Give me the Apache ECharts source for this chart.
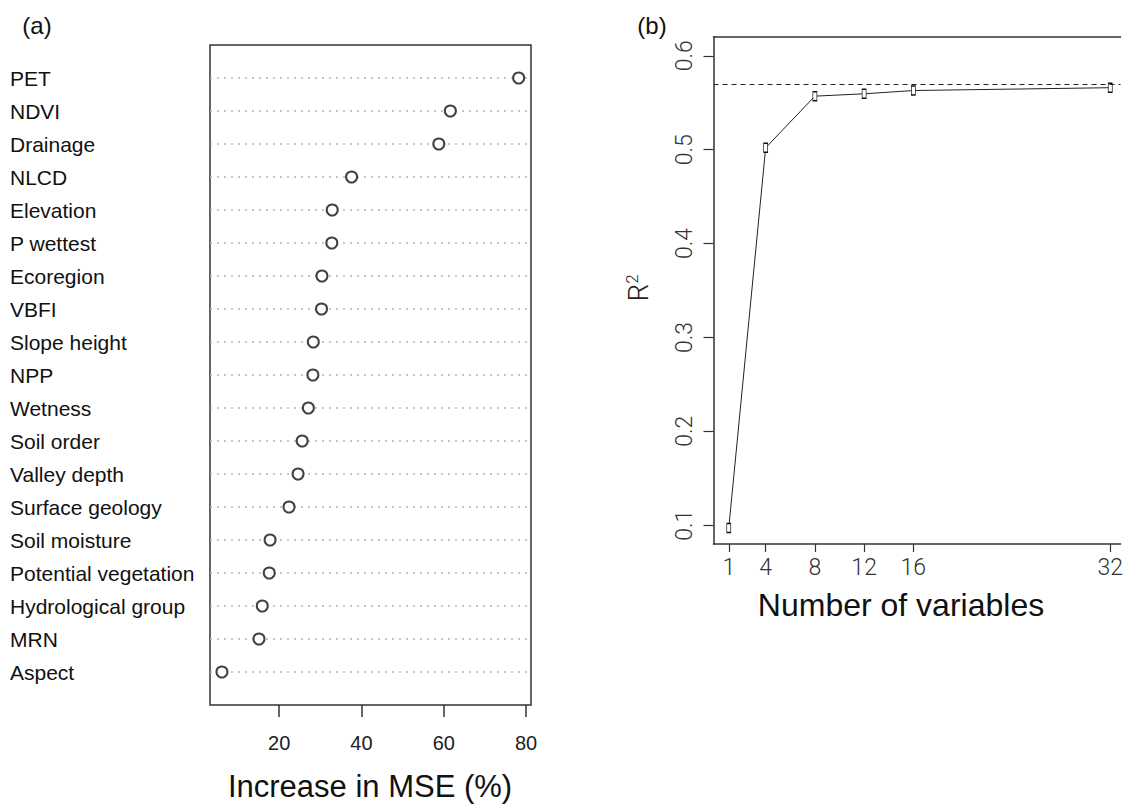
<!DOCTYPE html>
<html>
<head>
<meta charset="utf-8">
<script src="https://cdn.jsdelivr.net/npm/echarts@6/dist/echarts.min.js"></script>
<style>
  html, body { margin: 0; padding: 0; background: #fff; }
  #chart { width: 1126px; height: 806px; }
</style>
</head>
<body>
<div id="chart"></div>
<script>
// (a) variable importance, top to bottom
const varNames = ['PET', 'NDVI', 'Drainage', 'NLCD', 'Elevation', 'P wettest', 'Ecoregion', 'VBFI',
  'Slope height', 'NPP', 'Wetness', 'Soil order', 'Valley depth', 'Surface geology', 'Soil moisture',
  'Potential vegetation', 'Hydrological group', 'MRN', 'Aspect'];
const mseIncrease = [78.2, 61.6, 58.8, 37.6, 32.9, 32.8, 30.4, 30.3, 28.3, 28.2, 27.1, 25.6, 24.6,
  22.4, 17.8, 17.6, 15.9, 15.1, 6.1];
const mseTicks = [20, 40, 60, 80];

// (b) R2 vs number of variables
const nVars = [1, 4, 8, 12, 16, 32];
const rsq = [0.097, 0.502, 0.557, 0.5595, 0.563, 0.566];
const rsqMax = [0.5667];
const nVarTicks = [1, 4, 8, 12, 16, 32];
const rsqTicks = [0.1, 0.2, 0.3, 0.4, 0.5, 0.6];

const n = varNames.length;
const rowPos = varNames.map((_, i) => n - i);

const chart = echarts.init(document.getElementById('chart'), null, { renderer: 'svg' });

const sans = 'Liberation Sans, Arial, sans-serif';
const thin = 'Roboto, Liberation Sans, sans-serif';
const frame = { color: '#333', width: 1.5 };

const option = {
  animation: false,
  backgroundColor: '#fff',
  grid: [
    { left: 210, top: 45, width: 321, height: 660, show: true, borderColor: '#333', borderWidth: 1.5, backgroundColor: 'transparent' },
    // panel (b) runs off the right edge: no right border
    { left: 713.5, top: 37, width: 412.5, height: 507 }
  ],
  xAxis: [
    {
      gridIndex: 0, type: 'value', min: 3.2, max: 81.2,
      axisLine: { show: false },
      axisTick: { show: true, length: 12, customValues: mseTicks, lineStyle: { color: '#333', width: 1.5 } },
      axisLabel: { customValues: mseTicks, margin: 28, fontSize: 20, fontFamily: sans, color: '#222' },
      splitLine: { show: false }
    },
    {
      gridIndex: 1, type: 'value', min: -0.24, max: 32.84,
      axisLine: { show: true, onZero: false, lineStyle: frame },
      axisTick: { show: true, length: 8, customValues: nVarTicks, lineStyle: { color: '#333', width: 1.2 } },
      axisLabel: { customValues: nVarTicks, margin: 12, fontSize: 23, fontFamily: thin, fontWeight: 300, color: '#333' },
      splitLine: { show: false }
    },
    {
      gridIndex: 1, type: 'value', position: 'top', min: -0.24, max: 32.84,
      axisLine: { show: true, onZero: false, lineStyle: frame },
      axisTick: { show: false }, axisLabel: { show: false }, splitLine: { show: false }
    }
  ],
  yAxis: [
    {
      gridIndex: 0, type: 'value', min: 0, max: 20,
      axisLine: { show: false },
      axisTick: { show: false, customValues: rowPos },
      axisLabel: {
        customValues: rowPos, align: 'left', margin: 200, fontSize: 21, fontFamily: sans, color: '#111',
        formatter: v => varNames[n - v] || ''
      },
      splitLine: { show: true, lineStyle: { color: '#b4b4b4', width: 1.5, type: [2, 5] } }
    },
    {
      gridIndex: 1, type: 'value', min: 0.08, max: 0.62,
      axisLine: { show: true, onZero: false, lineStyle: frame },
      axisTick: { show: true, length: 10, customValues: rsqTicks, lineStyle: { color: '#333', width: 1.2 } },
      axisLabel: {
        customValues: rsqTicks, rotate: 90, margin: 18, fontSize: 23, fontFamily: thin, fontWeight: 300, color: '#333',
        formatter: v => v.toFixed(1)
      },
      splitLine: { show: false }
    }
  ],
  series: [
    {
      type: 'scatter', xAxisIndex: 0, yAxisIndex: 0,
      data: mseIncrease.map((v, i) => [v, rowPos[i]]),
      symbol: 'circle', symbolSize: 11,
      itemStyle: { color: '#fff', borderColor: '#111', borderWidth: 2 }
    },
    {
      type: 'line', xAxisIndex: 1, yAxisIndex: 1,
      data: nVars.map((v, i) => [v, rsq[i]]),
      symbol: 'rect', symbolSize: [4, 9], showSymbol: true,
      itemStyle: { color: '#fff', borderColor: '#111', borderWidth: 1 },
      lineStyle: { color: '#222', width: 1 },
      markLine: {
        silent: true, symbol: 'none', label: { show: false },
        lineStyle: { color: '#222', width: 1, type: [5, 4] },
        data: rsqMax.map(v => ({ yAxis: v }))
      }
    }
  ],
  graphic: [
    { type: 'text', x: 37, y: 25, style: { text: '(a)', fontSize: 24, fontFamily: sans, fill: '#111', align: 'center', verticalAlign: 'middle' } },
    { type: 'text', x: 652, y: 25, style: { text: '(b)', fontSize: 24, fontFamily: sans, fill: '#111', align: 'center', verticalAlign: 'middle' } },
    { type: 'text', x: 370, y: 786, style: { text: 'Increase in MSE (%)', fontSize: 31, fontFamily: sans, fill: '#111', align: 'center', verticalAlign: 'middle' } },
    { type: 'text', x: 901, y: 605, style: { text: 'Number of variables', fontSize: 32, fontFamily: sans, fill: '#111', align: 'center', verticalAlign: 'middle' } },
    {
      type: 'text', x: 638, y: 288, rotation: Math.PI / 2,
      style: {
        text: '{r|R}{s|2}', align: 'center', verticalAlign: 'middle',
        rich: {
          r: { fontSize: 28, fontFamily: thin, fontWeight: 300, fill: '#222', lineHeight: 30 },
          s: { fontSize: 17, fontFamily: thin, fontWeight: 300, fill: '#222', verticalAlign: 'top' }
        }
      }
    }
  ]
};

chart.setOption(option);
</script>
</body>
</html>
